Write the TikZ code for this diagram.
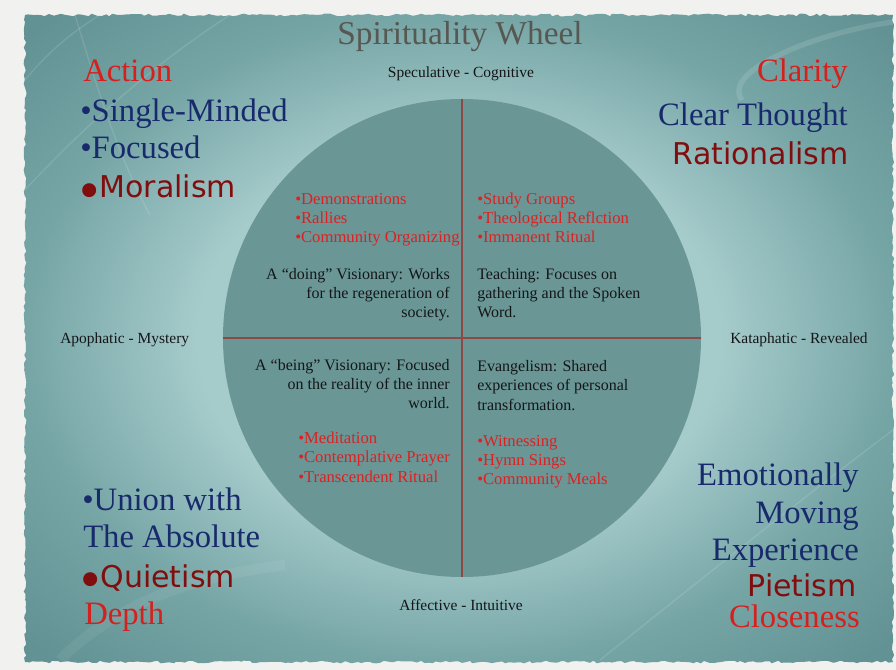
\documentclass[tikz,border=0pt]{standalone}
\usepackage{fontspec}
\setmainfont{Liberation Serif}
\newfontfamily\lucida{DejaVu Sans}
\usetikzlibrary{decorations.pathmorphing}

\definecolor{margin}{RGB}{241,241,240}
\definecolor{panel}{RGB}{118,165,166}
\definecolor{paneldark}{RGB}{98,146,147}
\definecolor{glow}{RGB}{166,203,203}
\definecolor{disc}{RGB}{106,150,150}
\definecolor{cross}{RGB}{142,72,70}
\definecolor{hdred}{RGB}{214,32,30}
\definecolor{hdblue}{RGB}{24,42,108}
\definecolor{ismred}{RGB}{128,14,14}
\definecolor{listred}{RGB}{222,32,32}
\definecolor{titlegray}{RGB}{88,88,82}
\definecolor{inkblack}{RGB}{20,22,24}

\pgfdeclareradialshading{wheelglow}{\pgfpoint{0bp}{0bp}}{color(0bp)=(glow); color(15bp)=(glow); color(25bp)=(panel); color(34bp)=(paneldark); color(50bp)=(paneldark)}

\newcommand\bigdot{\raisebox{-7.6pt}[0.5em][0pt]{\scalebox{1.6}{•}}\kern-3pt}

\begin{document}
\begin{tikzpicture}[x=0.75pt,y=-0.75pt,
  bigtxt/.style={font=\fontsize{24.5}{28}\selectfont, inner sep=0pt},
  ismtxt/.style={font=\lucida\fontsize{22.5}{26}\selectfont, text=ismred, inner sep=0pt},
  listtxt/.style={font=\fontsize{12.5}{15}\selectfont, text=listred, inner sep=0pt},
  desctxt/.style={font=\fontsize{12}{14}\selectfont, text=inkblack, inner sep=0pt},
  axistxt/.style={font=\fontsize{11.6}{14}\selectfont, text=inkblack, inner sep=0pt},
  swoosh/.style={draw=white, opacity=.12, line width=1pt}]

\useasboundingbox[fill=margin] (0,0) rectangle (896,670);

% panel
\shade[shading=wheelglow, decorate, decoration={random steps, segment length=3pt, amplitude=1pt}] (25,15) rectangle (893,662);
\draw[swoosh] (25,80) .. controls (50,50) and (75,30) .. (100,15);
\draw[swoosh] (25,190) .. controls (90,120) and (160,60) .. (230,15);
\draw[swoosh] (75,15) .. controls (95,80) and (115,150) .. (150,215);
\draw[swoosh, line width=4pt] (893,22) .. controls (820,32) and (720,70) .. (742,100);
\draw[swoosh] (600,660) .. controls (700,580) and (800,500) .. (893,430);
\draw[swoosh, line width=8pt, opacity=.06] (60,660) .. controls (120,600) and (200,575) .. (285,565);

% wheel
\node[circle, fill=disc, minimum size=358.5pt, inner sep=0pt] (wheel) at (462,338) {};
\draw[cross, line width=1.3pt] (wheel.west) -- (wheel.east);
\draw[cross, line width=1.3pt] (wheel.north) -- (wheel.south);

\node[font=\fontsize{25}{30}\selectfont, text=titlegray, anchor=base, inner sep=0pt] (title) at (460,45) {Spirituality Wheel};
\node[axistxt, anchor=base] (north) at (461,78) {Speculative - Cognitive};
\node[axistxt, anchor=base] (south) at (461,610) {Affective - Intuitive};
\node[axistxt, anchor=base west] (west) at (60,344) {Apophatic - Mystery};
\node[axistxt, anchor=base west] (east) at (730,344) {Kataphatic - Revealed};

% top left corner
\node[bigtxt, text=hdred, anchor=base west] (action) at (83,82) {Action};
\node[bigtxt, text=hdblue, anchor=base west] (single) at (80,122) {•Single-Minded};
\node[bigtxt, text=hdblue, anchor=base west] (focused) at (80,159) {•Focused};
\node[ismtxt, anchor=base west] (moral) at (75,198) {\bigdot Moralism};

% top right corner
\node[bigtxt, text=hdred, anchor=base east] (clarity) at (848,82) {Clarity};
\node[bigtxt, text=hdblue, anchor=base east] (clear) at (848,126) {Clear Thought};
\node[ismtxt, anchor=base east] (ratio) at (849,165) {Rationalism};

% bottom left corner
\node[bigtxt, text=hdblue, anchor=base west] (union) at (82,510) {•Union with};
\node[bigtxt, text=hdblue, anchor=base west] (absolute) at (83,547) {The Absolute};
\node[ismtxt, anchor=base west] (quiet) at (76,587) {\bigdot Quietism};
\node[bigtxt, text=hdred, anchor=base west] (depth) at (84,624) {Depth};

% bottom right corner
\node[bigtxt, text=hdblue, anchor=base east] (emot) at (859,485) {Emotionally};
\node[bigtxt, text=hdblue, anchor=base east] (moving) at (859,523) {Moving};
\node[bigtxt, text=hdblue, anchor=base east] (exper) at (859,560) {Experience};
\node[ismtxt, anchor=base east] (pietism) at (857,596) {Pietism};
\node[bigtxt, text=hdred, anchor=base east] (close) at (860,627) {Closeness};

% quadrants
\foreach \t [count=\i from 0] in {•Demonstrations,•Rallies,•Community Organizing}
  \node[listtxt, anchor=base west] (doList\i) at (295,205+19*\i) {\t};
\foreach \t [count=\i from 0] in {A “doing” Visionary: Works,for the regeneration of,society.}
  \node[desctxt, anchor=base east] (doText\i) at (450,280+19*\i) {\t};
\foreach \t [count=\i from 0] in {•Study Groups,•Theological Reflction,•Immanent Ritual}
  \node[listtxt, anchor=base west] (teachList\i) at (477,205+19*\i) {\t};
\foreach \t [count=\i from 0] in {Teaching: Focuses on,gathering and the Spoken,Word.}
  \node[desctxt, anchor=base west] (teachText\i) at (477,280+19*\i) {\t};
\foreach \t [count=\i from 0] in {A “being” Visionary: Focused,on the reality of the inner,world.}
  \node[desctxt, anchor=base east] (beText\i) at (450,370+19*\i) {\t};
\foreach \t [count=\i from 0] in {•Meditation,•Contemplative Prayer,•Transcendent Ritual}
  \node[listtxt, anchor=base west] (beList\i) at (298,443+19.5*\i) {\t};
\foreach \t [count=\i from 0] in {Evangelism: Shared,experiences of personal,transformation.}
  \node[desctxt, anchor=base west] (evText\i) at (477,371+19.5*\i) {\t};
\foreach \t [count=\i from 0] in {•Witnessing,•Hymn Sings,•Community Meals}
  \node[listtxt, anchor=base west] (evList\i) at (477,446+19*\i) {\t};
\end{tikzpicture}
\end{document}
